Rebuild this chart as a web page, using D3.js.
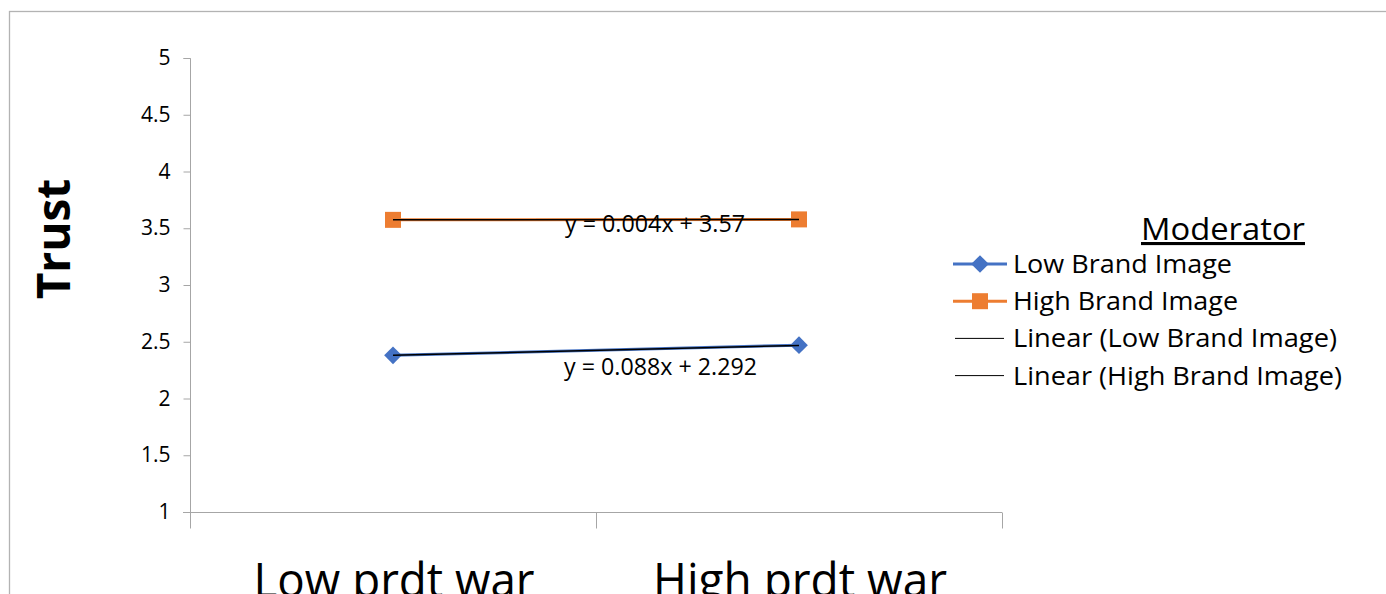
<!DOCTYPE html>
<html><head><meta charset="utf-8">
<script src="https://cdn.jsdelivr.net/npm/d3@7"></script>
<style>body{margin:0;background:#fff;} svg{display:block;font-family:"Open Sans",sans-serif;}</style>
</head><body>
<svg id="c" width="1386" height="594"></svg>
<script>
const categories = ["Low prdt war", "High prdt war"];
const lowBrand = [2.38, 2.47];
const highBrand = [3.574, 3.578];
const yTicks = [1, 1.5, 2, 2.5, 3, 3.5, 4, 4.5, 5];
const trendLow = {slope: 0.088, intercept: 2.292, label: "y = 0.088x + 2.292"};
const trendHigh = {slope: 0.004, intercept: 3.57, label: "y = 0.004x + 3.57"};
const legendItems = ["Low Brand Image", "High Brand Image", "Linear (Low Brand Image)", "Linear (High Brand Image)"];

const svg = d3.select("#c");
const blue = "#4472C4", orange = "#ED7D31";
const FF = "'Open Sans', sans-serif";

// frame
svg.append("rect").attr("x", 9.5).attr("y", 11.5).attr("width", 1400).attr("height", 700)
  .attr("fill", "none").attr("stroke", "#b3b3b3").attr("stroke-width", 1.3);

const x = d3.scaleBand().domain(categories).range([190, 1002]);
const y = d3.scaleLinear().domain([1, 5]).range([512, 58]);
const cx = d => x(d) + x.bandwidth() / 2;

// y axis
const yAx = svg.append("g").attr("transform", "translate(190.5,0)")
  .call(d3.axisLeft(y).tickValues(yTicks).tickSize(7).tickPadding(13).tickFormat(d => d3.format("")(d)));
yAx.select(".domain").attr("stroke", "#a6a6a6").attr("d", "M-7,58.5H0V512");
yAx.selectAll(".tick line").attr("stroke", "#a6a6a6");
yAx.selectAll(".tick text").attr("font-size", 21).attr("fill", "#000").attr("font-family", FF);

// x axis
const xAx = svg.append("g").attr("transform", "translate(0,512.5)")
  .call(d3.axisBottom(x).tickValues([]).tickSizeOuter(0));
xAx.select(".domain").attr("stroke", "#a6a6a6").attr("d", "M183,0H1002");
const bounds = [190, x(categories[1]), 1002];
xAx.selectAll(".bt").data(bounds).enter().append("line").attr("class", "bt")
  .attr("x1", d => Math.round(d) + 0.5).attr("x2", d => Math.round(d) + 0.5).attr("y1", 0).attr("y2", 16)
  .attr("stroke", "#a6a6a6");

// category labels
svg.selectAll(".cat").data(categories).enter().append("text").attr("class", "cat")
  .attr("x", d => cx(d) + 1).attr("y", 597).attr("text-anchor", "middle")
  .attr("font-size", 48).attr("fill", "#000")
  .attr("textLength", (d, i) => i === 0 ? 281 : 294).attr("lengthAdjust", "spacingAndGlyphs")
  .text(d => d);

// y title
svg.append("text").attr("transform", "translate(70,239) rotate(-90)").attr("text-anchor", "middle")
  .attr("font-size", 46).attr("font-weight", "bold").attr("fill", "#000").text("Trust");

const line = d3.line().x((d, i) => cx(categories[i])).y(d => y(d));

// series
svg.append("path").datum(lowBrand).attr("d", line).attr("fill", "none").attr("stroke", blue).attr("stroke-width", 3);
svg.append("path").datum(highBrand).attr("d", line).attr("fill", "none").attr("stroke", orange).attr("stroke-width", 3);

const diamond = d3.symbol().type(d3.symbolDiamond2).size(200);
const square = d3.symbol().type(d3.symbolSquare).size(256);
svg.selectAll(".dm").data(lowBrand).enter().append("path")
  .attr("transform", (d, i) => `translate(${cx(categories[i])},${y(d)})`).attr("d", diamond).attr("fill", blue);
svg.selectAll(".sq").data(highBrand).enter().append("path")
  .attr("transform", (d, i) => `translate(${cx(categories[i])},${y(d)})`).attr("d", square).attr("fill", orange);

// trendlines
[trendLow, trendHigh].forEach(t => {
  const pts = [1, 2].map(k => t.slope * k + t.intercept);
  svg.append("path").datum(pts).attr("d", line).attr("fill", "none").attr("stroke", "#000").attr("stroke-width", 1.5);
});
svg.append("text").attr("x", 565).attr("y", 232).attr("font-size", 23).attr("fill", "#000")
  .attr("textLength", 180).attr("lengthAdjust", "spacingAndGlyphs").text(trendHigh.label);
svg.append("text").attr("x", 564).attr("y", 375).attr("font-size", 23).attr("fill", "#000")
  .attr("textLength", 193).attr("lengthAdjust", "spacingAndGlyphs").text(trendLow.label);

// legend
svg.append("text").attr("x", 1141).attr("y", 240).attr("font-size", 31).attr("fill", "#000")
  .attr("textLength", 164).attr("lengthAdjust", "spacingAndGlyphs")
  .attr("text-decoration", "underline").text("Moderator");
const legendWidths = [219, 225, 324, 329];
const lg = svg.append("g");
legendItems.forEach((name, i) => {
  const yy = 264 + i * 37.2;
  const g = lg.append("g").attr("transform", `translate(0,${yy})`);
  if (i < 2) {
    g.append("line").attr("x1", 953).attr("x2", 1007).attr("y1", 0).attr("y2", 0)
      .attr("stroke", i === 0 ? blue : orange).attr("stroke-width", 3);
    g.append("path").attr("transform", "translate(980,0)").attr("d", i === 0 ? diamond : square)
      .attr("fill", i === 0 ? blue : orange);
  } else {
    g.append("line").attr("x1", 955).attr("x2", 1004).attr("y1", 0).attr("y2", 0)
      .attr("stroke", "#000").attr("stroke-width", 1);
  }
  g.append("text").attr("x", 1013).attr("y", 9).attr("font-size", 25).attr("fill", "#000")
    .attr("textLength", legendWidths[i]).attr("lengthAdjust", "spacingAndGlyphs").text(name);
});
</script>
</body></html>
